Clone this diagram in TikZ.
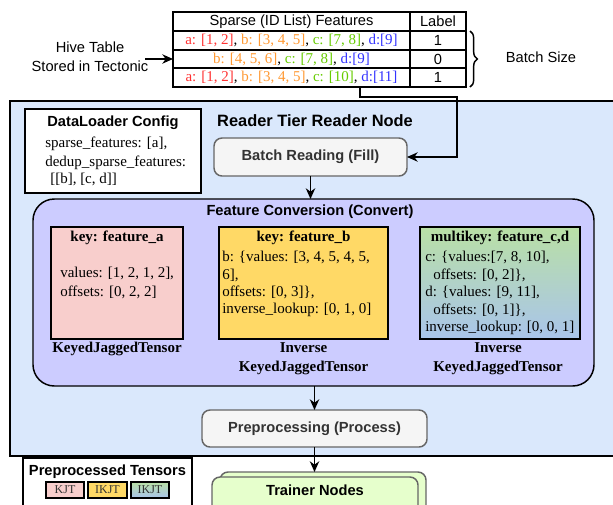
\documentclass[tikz,border=0pt]{standalone}
\usepackage{fontspec}
\setmainfont{Liberation Serif}
\setsansfont{Liberation Sans}
\usetikzlibrary{arrows.meta,decorations.pathreplacing}
\definecolor{cred}{HTML}{FF3333}
\definecolor{corange}{HTML}{FF9933}
\definecolor{cgreen}{HTML}{66CC00}
\definecolor{cblue}{HTML}{3333FF}
\definecolor{bgblue}{HTML}{DAE8FC}
\definecolor{cconv}{HTML}{CCCCFF}
\definecolor{cpink}{HTML}{F8CECC}
\definecolor{cyellow}{HTML}{FFD966}
\definecolor{cgtop}{HTML}{B9E0A5}
\definecolor{cgbot}{HTML}{A9C4EB}
\definecolor{cgray}{HTML}{F5F5F5}
\definecolor{cgrayb}{HTML}{666666}
\definecolor{ctext}{HTML}{333333}
\definecolor{ctrainer}{HTML}{E6FFCC}
\begin{document}
\begin{tikzpicture}[x=0.75pt,y=-0.75pt,
  rect/.style args={#1,#2,#3,#4}{minimum width={(#3-#1)*0.75pt}, minimum height={(#4-#2)*0.75pt}, at={({(#1+#3)/2},{(#2+#4)/2})}, inner sep=0pt, outer sep=0pt},
  ss/.style={font=\sffamily\fontsize{11}{14.25}\selectfont},
  ssb/.style={font=\sffamily\bfseries\fontsize{11}{13}\selectfont},
  sv/.style={font=\fontsize{11.25}{13}\selectfont},
  svb/.style={font=\bfseries\fontsize{11.25}{13}\selectfont},
  cell/.style={draw, line width=1.1pt},
  frame/.style={draw, line width=1.1pt},
  tbox/.style={draw, line width=1.5pt},
  graybox/.style={draw=cgrayb, fill=cgray, line width=1.1pt, rounded corners=6pt, ssb, text=ctext},
  trainbox/.style={draw=cgrayb, fill=ctrainer, line width=1.1pt, rounded corners=6pt},
  legbox/.style={draw, line width=1.3pt, font=\fontsize{9}{10}\selectfont, text=ctext},
  arr/.style={-{Stealth[length=8pt,width=7pt,inset=2.5pt]}, line width=1.1pt}
]
\path[use as bounding box] (0,0) rectangle (613,504);
\clip (0,0) rectangle (613,504);

% ---- table ----
\node[cell, rect={173,12,410,31}, ss] (h1) {Sparse (ID List) Features};
\node[cell, rect={410,12,466,31}, ss] (h2) {Label};
\node[cell, rect={173,31,410,50}, sv] (l1) {{\color{cred}a: [1, 2]}, {\color{corange}b: [3, 4, 5]}, {\color{cgreen}c: [7, 8]}, {\color{cblue}d:[9]}};
\node[cell, rect={410,31,466,50}, ss] (r1) {1};
\node[cell, rect={173,50,410,68}, sv] (l2) {{\color{corange}b: [4, 5, 6]}, {\color{cgreen}c: [7, 8]}, {\color{cblue}d:[9]}};
\node[cell, rect={410,50,466,68}, ss] (r2) {0};
\node[cell, rect={173,68,410,87}, sv] (l3) {{\color{cred}a: [1, 2]}, {\color{corange}b: [3, 4, 5]}, {\color{cgreen}c: [10]}, {\color{cblue}d:[11]}};
\node[cell, rect={410,68,466,87}, ss] (r3) {1};

\coordinate (bt) at (470,31);
\coordinate (bb) at (470,87);
\draw[line width=1.1pt, decorate, decoration={brace, amplitude=5.5pt}] (bt) -- (bb);
\node[ss] (bs) at (541,57) {Batch Size};

\node[ss, align=center] (hive) at (90,56.5) {Hive Table\\Stored in Tectonic};
\coordinate (hiveout) at (145,59);
\draw[arr] (hiveout) -- (l2.west);

% ---- reader region ----
\node[rect={10,101,630,456}, draw, fill=bgblue, line width=0.9pt] (reader) {};

\node[frame, fill=white, rect={25,109,201,193}] (cfg) {};
\node[ssb, anchor=base] (cfgt) at (113,126.5) {DataLoader Config};
\node[sv, anchor=base west, inner sep=0pt] (cfg1) at (45,147.5) {sparse\_features: [a],};
\node[sv, anchor=base west, inner sep=0pt] (cfg2) at (45,166) {dedup\_sparse\_features:};
\node[sv, anchor=base west, inner sep=0pt] (cfg3) at (50,183.5) {[[b], [c, d]]};

\node[font=\sffamily\bfseries\fontsize{12.3}{14}\selectfont, anchor=base] (rtitle) at (315,126) {Reader Tier Reader Node};

\node[graybox, rect={214,138,407,176}] (br) {Batch Reading (Fill)};

% ---- feature conversion ----
\node[rect={33,199,594,386}, draw, fill=cconv, line width=1.1pt, rounded corners=16pt] (fc) {};
\node[ssb, anchor=base] (fct) at (310,215.5) {Feature Conversion (Convert)};

\node[tbox, fill=cpink, rect={51,227,183,339}] (A) {};
\node[svb, anchor=base] (At) at (117,241.5) {key: feature\_a};
\node[sv, anchor=base west, inner sep=0pt] (A1) at (60,277.5) {values: [1, 2, 1, 2],};
\node[sv, anchor=base west, inner sep=0pt] (A2) at (60,296.5) {offsets: [0, 2, 2]};
\node[svb, anchor=base] (Al) at (117,352.5) {KeyedJaggedTensor};

\node[tbox, fill=cyellow, rect={219,227,388,339}] (B) {};
\node[svb, anchor=base] (Bt) at (303.5,241.5) {key: feature\_b};
\node[sv, anchor=base west, inner sep=0pt] (B1) at (222,261.5) {b: \{values: [3, 4, 5, 4, 5,};
\node[sv, anchor=base west, inner sep=0pt] (B2) at (222,279) {6],};
\node[sv, anchor=base west, inner sep=0pt] (B3) at (222,296.5) {offsets: [0, 3]\},};
\node[sv, anchor=base west, inner sep=0pt] (B4) at (222,313) {inverse\_lookup: [0, 1, 0]};
\node[svb, anchor=base] (Bl1) at (303.5,352.5) {Inverse};
\node[svb, anchor=base] (Bl2) at (303.5,371.5) {KeyedJaggedTensor};

\node[tbox, top color=cgtop, bottom color=cgbot, rect={420,227,580,339}] (C) {};
\node[svb, anchor=base] (Ct) at (500,241.5) {multikey: feature\_c,d};
\node[sv, anchor=base west, inner sep=0pt] (C1) at (425,261.5) {c: \{values:[7, 8, 10],};
\node[sv, anchor=base west, inner sep=0pt] (C2) at (433,279) {offsets: [0, 2]\},};
\node[sv, anchor=base west, inner sep=0pt] (C3) at (425,296.5) {d: \{values: [9, 11],};
\node[sv, anchor=base west, inner sep=0pt] (C4) at (433,314.5) {offsets: [0, 1]\},};
\node[sv, anchor=base west, inner sep=0pt] (C5) at (425,331.5) {inverse\_lookup: [0, 0, 1]};
\node[svb, anchor=base] (Cl1) at (498,352.5) {Inverse};
\node[svb, anchor=base] (Cl2) at (498,371.5) {KeyedJaggedTensor};

% ---- preprocessing ----
\node[graybox, rect={202,410,427,447}] (pre) {Preprocessing (Process)};

% ---- bottom ----
\node[trainbox, rect={220,472,426,540}] (trainback) {};
\node[trainbox, rect={212,477,418,540}] (trainfront) {};
\node[ssb, anchor=base] (traint) at (315,495.5) {Trainer Nodes};

\node[frame, fill=white, rect={23,458,192,540}] (leg) {};
\node[ssb, anchor=base] (legt) at (107.5,475.4) {Preprocessed Tensors};
\node[legbox, fill=cpink, rect={46,482,84,498}] (k1) {KJT};
\node[legbox, fill=cyellow, rect={88,482,127,498}] (k2) {IKJT};
\node[legbox, top color=cgtop, bottom color=cgbot, rect={131,482,169,498}] (k3) {IKJT};

% ---- connectors ----
\draw[arr] (l3.south) ++(68.5,0) -- ++(0,10) -- ++(97,0) |- (br.east);
\draw[arr] (br.south) -- (br.south |- fc.north);
\draw[arr] (pre.north |- fc.south) -- (pre.north);
\draw[arr] (pre.south) -- (pre.south |- trainback.north);
\end{tikzpicture}
\end{document}
